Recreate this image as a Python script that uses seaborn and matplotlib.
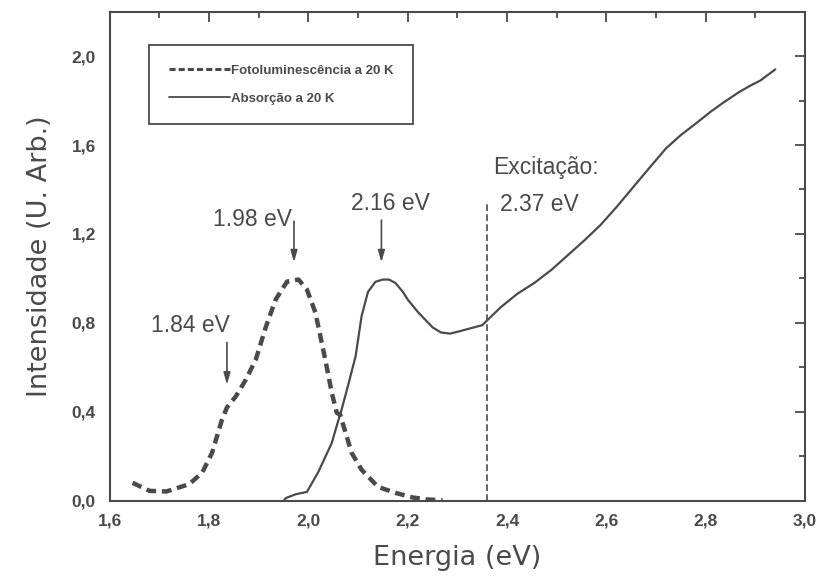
import matplotlib
matplotlib.use("Agg")
import matplotlib.pyplot as plt
import matplotlib.ticker as mticker
import seaborn as sns

# Fotoluminescência a 20 K (curva tracejada)
pl_energy = [1.646, 1.68, 1.714, 1.76, 1.786, 1.806, 1.826, 1.836, 1.854, 1.874,
             1.894, 1.914, 1.934, 1.957, 1.98, 1.997, 2.014, 2.034, 2.047, 2.057,
             2.064, 2.087, 2.107, 2.14, 2.175, 2.21, 2.24, 2.27]
pl_intensity = [0.081, 0.045, 0.042, 0.075, 0.126, 0.216, 0.365, 0.42, 0.47, 0.545,
                0.635, 0.78, 0.905, 0.986, 0.995, 0.95, 0.847, 0.635, 0.486, 0.396,
                0.387, 0.216, 0.14, 0.063, 0.036, 0.015, 0.006, 0.003]

# Absorção a 20 K (curva contínua)
abs_energy = [1.95, 1.955, 1.975, 1.997, 2.02, 2.047, 2.06, 2.064, 2.08, 2.095,
              2.107, 2.12, 2.135, 2.15, 2.162, 2.175, 2.19, 2.20, 2.22, 2.235,
              2.25, 2.267, 2.285, 2.30, 2.325, 2.35, 2.387, 2.42, 2.455, 2.49,
              2.52, 2.555, 2.588, 2.62, 2.65, 2.68, 2.72, 2.75, 2.782, 2.81,
              2.835, 2.865, 2.888, 2.91, 2.928, 2.94]
abs_intensity = [0.0, 0.013, 0.03, 0.04, 0.13, 0.26, 0.36, 0.387, 0.52, 0.65,
                 0.83, 0.94, 0.985, 0.995, 0.995, 0.98, 0.94, 0.905, 0.85, 0.815,
                 0.78, 0.757, 0.752, 0.76, 0.775, 0.79, 0.87, 0.93, 0.98, 1.04,
                 1.10, 1.17, 1.24, 1.32, 1.40, 1.48, 1.585, 1.645, 1.70, 1.75,
                 1.79, 1.835, 1.865, 1.89, 1.92, 1.94]

excitation_energy = 2.36
excitation_top = 1.35

# anotações: texto, posição do texto, seta (x, início, ponta)
peak_labels = ["1.84 eV", "1.98 eV", "2.16 eV"]
label_x = [1.762, 1.887, 2.165]
label_y = [0.79, 1.266, 1.338]
arrow_x = [1.836, 1.971, 2.147]
arrow_from = [0.725, 1.27, 1.275]
arrow_to = [0.51, 1.06, 1.06]

ink = "#4a4a4a"

sns.set_style("white")
plt.rcParams["font.family"] = ["Liberation Sans", "DejaVu Sans"]

fig = plt.figure(figsize=(8.19, 5.79), dpi=100)
ax = fig.add_axes([0.134, 0.135, 0.849, 0.845])

sns.lineplot(x=pl_energy, y=pl_intensity, ax=ax, color=ink, linewidth=3.2,
             linestyle=(0, (2.2, 1.3)), label="Fotoluminescência a 20 K")
sns.lineplot(x=abs_energy, y=abs_intensity, ax=ax, color=ink, linewidth=1.6,
             label="Absorção a 20 K")

ax.plot([excitation_energy, excitation_energy], [0, excitation_top],
        color=ink, linewidth=1.2, linestyle=(0, (4, 2)))

for txt, tx, ty, axx, a0, a1 in zip(peak_labels, label_x, label_y, arrow_x, arrow_from, arrow_to):
    ax.text(tx, ty, txt, ha="center", va="center", fontsize=16.5, color=ink)
    ax.annotate("", xy=(axx, a1), xytext=(axx, a0),
                arrowprops=dict(arrowstyle="-|>,head_length=0.7,head_width=0.2",
                                color=ink, lw=1.2))

ax.text(2.371, 1.50, "Excitação:", ha="left", va="center", fontsize=16.5, color=ink)
ax.text(2.385, 1.333, "2.37 eV", ha="left", va="center", fontsize=16.5, color=ink)

ax.set_xlim(1.6, 3.0)
ax.set_ylim(0, 2.2)
ax.xaxis.set_major_locator(mticker.MultipleLocator(0.2))
ax.xaxis.set_minor_locator(mticker.MultipleLocator(0.1))
ax.yaxis.set_major_locator(mticker.FixedLocator([0, 0.4, 0.8, 1.2, 1.6, 2.0]))
ax.yaxis.set_minor_locator(mticker.MultipleLocator(0.2))
comma = mticker.FuncFormatter(lambda v, p: f"{v:.1f}".replace(".", ","))
ax.xaxis.set_major_formatter(comma)
ax.yaxis.set_major_formatter(comma)

ax.tick_params(which="both", direction="in", top=True, right=True, colors=ink,
               labelsize=12.5, width=1.3)
ax.tick_params(which="major", length=7)
ax.tick_params(axis="y", which="major", pad=10)
ax.tick_params(axis="x", which="major", pad=9)
ax.tick_params(which="minor", length=4)
for lab in ax.get_xticklabels() + ax.get_yticklabels():
    lab.set_fontweight("bold")
for sp in ax.spines.values():
    sp.set_color(ink)
    sp.set_linewidth(1.5)

ax.set_xlabel("Energia (eV)", fontsize=19.5, color=ink, labelpad=12,
              family="DejaVu Sans")
ax.set_ylabel("Intensidade (U. Arb.)", fontsize=19.5, color=ink, labelpad=13,
              family="DejaVu Sans")

leg = ax.legend(loc="upper left", bbox_to_anchor=(0.057, 0.9325),
                borderaxespad=0, handlelength=4.6, handletextpad=0.1,
                borderpad=1.5, labelspacing=1.2, fancybox=False, framealpha=1,
                edgecolor=ink, prop={"weight": "bold", "size": 9.5})
leg.get_frame().set_linewidth(1.3)
for t in leg.get_texts():
    t.set_color(ink)
leg.get_lines()[0].set_linewidth(2.2)
leg.get_lines()[0].set_linestyle((0, (2, 1)))
leg.get_lines()[1].set_linewidth(1.3)

fig.savefig("out.png", dpi=100)
